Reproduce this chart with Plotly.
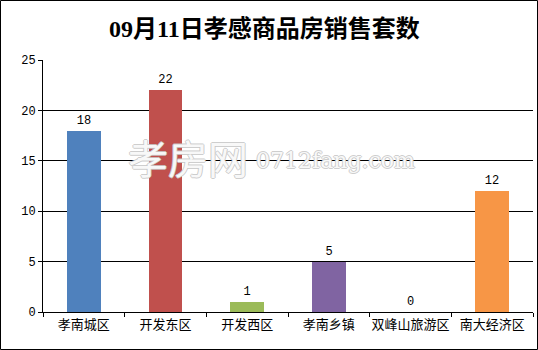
import plotly.graph_objects as go

categories = ["孝南城区", "开发东区", "开发西区", "孝南乡镇", "双峰山旅游区", "南大经济区"]
values = [18, 22, 1, 5, 0, 12]
colors = ["#4F81BD", "#C0504D", "#9BBB59", "#8064A2", "#4BACC6", "#F79646"]
title_text = "09月11日孝感商品房销售套数"
y_ticks = [0, 5, 10, 15, 20, 25]

W, H = 538, 350
L, R, T, B = 43, 5, 60, 38
pw, ph = W - L - R, H - T - B

fig = go.Figure()
fig.add_trace(go.Bar(
    x=categories, y=values, marker=dict(color=colors, line=dict(width=0)),
    width=0.41,
    text=[str(v) for v in values], textposition="outside",
    textfont=dict(family="Liberation Mono, DejaVu Sans Mono, monospace", size=12, color="#000"),
    cliponaxis=False,
))

fig.update_layout(
    width=W, height=H,
    margin=dict(l=L, r=R, t=T, b=B, autoexpand=False),
    paper_bgcolor="white", plot_bgcolor="white",
    showlegend=False,
    bargap=0,
    xaxis=dict(
        type="category", showline=True, linecolor="#000", linewidth=1,
        ticks="outside", tickson="boundaries", ticklen=4, tickcolor="#000",
        tickangle=0, automargin=False,
        tickfont=dict(family="Noto Sans CJK SC", size=13, color="#000"),
        showgrid=False, zeroline=False,
    ),
    yaxis=dict(
        range=[0, 25], tickvals=y_ticks, showline=True, linecolor="#000", linewidth=1,
        ticks="outside", ticklen=4, tickcolor="#000", automargin=False,
        tickfont=dict(family="Liberation Mono, DejaVu Sans Mono, monospace", size=12, color="#000"),
        showgrid=True, gridcolor="#000", gridwidth=1, zeroline=False,
    ),
)

# title
fig.add_annotation(
    xref="paper", yref="paper",
    x=(264 - L) / pw, y=(H - B - 28) / ph,
    text=title_text, showarrow=False,
    xanchor="center", yanchor="middle",
    font=dict(family="Liberation Serif, Noto Sans CJK SC", size=24, color="#000", weight="bold"),
)

# watermark
wm_shadow = "-1px 0 #c8c8c8, 1px 0 #c8c8c8, 0 -1px #c8c8c8, 0 1px #c8c8c8"
fig.add_annotation(
    xref="paper", yref="paper",
    x=(126 - L) / pw, y=(H - B - 157) / ph,
    text="孝房网", showarrow=False, xanchor="left", yanchor="middle",
    font=dict(family="Noto Sans CJK SC", size=40, color="rgba(255,255,255,0.9)", shadow=wm_shadow),
)
fig.add_annotation(
    xref="paper", yref="paper",
    x=(254 - L) / pw, y=(H - B - 160) / ph,
    text="0712fang.com", showarrow=False, xanchor="left", yanchor="middle",
    font=dict(family="DejaVu Serif", size=22, color="rgba(255,255,255,0.9)", shadow=wm_shadow),
)

# outer border
fig.add_shape(
    type="rect", xref="paper", yref="paper",
    x0=(0.5 - L) / pw, x1=(W - 0.5 - L) / pw,
    y0=(H - B - (H - 0.5)) / ph, y1=(H - B - 0.5) / ph,
    line=dict(color="#000", width=1), fillcolor="rgba(0,0,0,0)", layer="above",
)

fig.write_html("out.html")
